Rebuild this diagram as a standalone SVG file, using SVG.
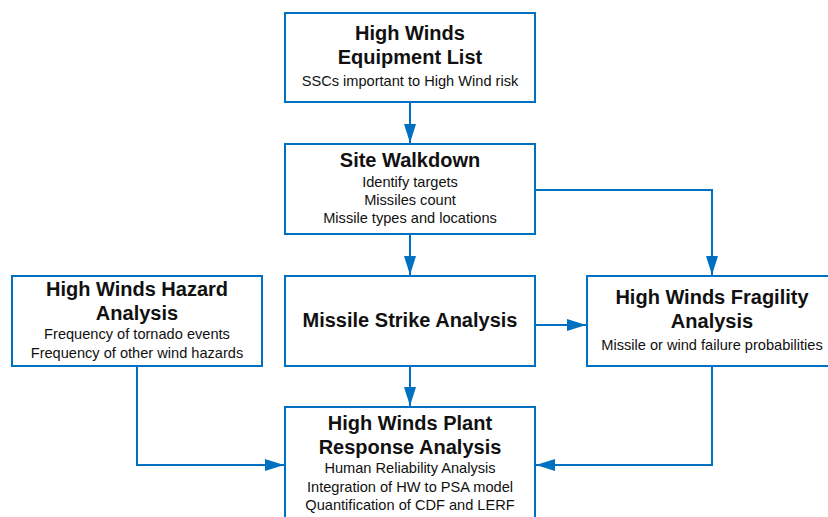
<svg xmlns="http://www.w3.org/2000/svg" width="828" height="517" viewBox="0 0 828 517">
<defs>
<style>
.box{fill:#fff;stroke:#0070C0;stroke-width:2}
.con{fill:none;stroke:#0070C0;stroke-width:2}
text{font-family:"Liberation Sans",Arial,sans-serif;fill:#111;text-anchor:middle}
.t{font-size:20px;font-weight:bold}
.s{font-size:14.6px}
</style>
<marker id="ah" markerUnits="userSpaceOnUse" markerWidth="19" markerHeight="12" refX="19" refY="6" orient="auto">
<path d="M0,0 L19,6 L0,12 z" fill="#0070C0"/>
</marker>
</defs>
<rect width="828" height="517" fill="#fff"/>
<g id="connectors">
<path class="con" d="M410,103 V143" marker-end="url(#ah)"/>
<path class="con" d="M410,235 V275" marker-end="url(#ah)"/>
<path class="con" d="M410,367 V406" marker-end="url(#ah)"/>
<path class="con" d="M536,190 H712 V275" marker-end="url(#ah)"/>
<path class="con" d="M536,325 H586" marker-end="url(#ah)"/>
<path class="con" d="M137,367 V465 H284" marker-end="url(#ah)"/>
<path class="con" d="M712,367 V465 H536" marker-end="url(#ah)"/>
</g>
<g id="equipment-list">
<rect class="box" x="285" y="13" width="250" height="89"/>
<text class="t" x="410" y="40">High Winds</text>
<text class="t" x="410" y="64">Equipment List</text>
<text class="s" x="410" y="86">SSCs important to High Wind risk</text>
</g>
<g id="site-walkdown">
<rect class="box" x="285" y="144" width="250" height="90"/>
<text class="t" x="410" y="167">Site Walkdown</text>
<text class="s" x="410" y="187">Identify targets</text>
<text class="s" x="410" y="205">Missiles count</text>
<text class="s" x="410" y="223">Missile types and locations</text>
</g>
<g id="missile-strike">
<rect class="box" x="285" y="276" width="250" height="90"/>
<text class="t" x="410" y="327">Missile Strike Analysis</text>
</g>
<g id="hazard">
<rect class="box" x="12" y="276" width="250" height="90"/>
<text class="t" x="137" y="296">High Winds Hazard</text>
<text class="t" x="137" y="320">Analysis</text>
<text class="s" x="137" y="339">Frequency of tornado events</text>
<text class="s" x="137" y="358">Frequency of other wind hazards</text>
</g>
<g id="fragility">
<rect class="box" x="587" y="276" width="300" height="90"/>
<text class="t" x="712" y="304">High Winds Fragility</text>
<text class="t" x="712" y="328">Analysis</text>
<text class="s" x="712" y="350">Missile or wind failure probabilities</text>
</g>
<g id="plant-response">
<rect class="box" x="285" y="407" width="250" height="200"/>
<text class="t" x="410" y="430">High Winds Plant</text>
<text class="t" x="410" y="454">Response Analysis</text>
<text class="s" x="410" y="473">Human Reliability Analysis</text>
<text class="s" x="410" y="492">Integration of HW to PSA model</text>
<text class="s" x="410" y="510">Quantification of CDF and LERF</text>
</g>
</svg>
